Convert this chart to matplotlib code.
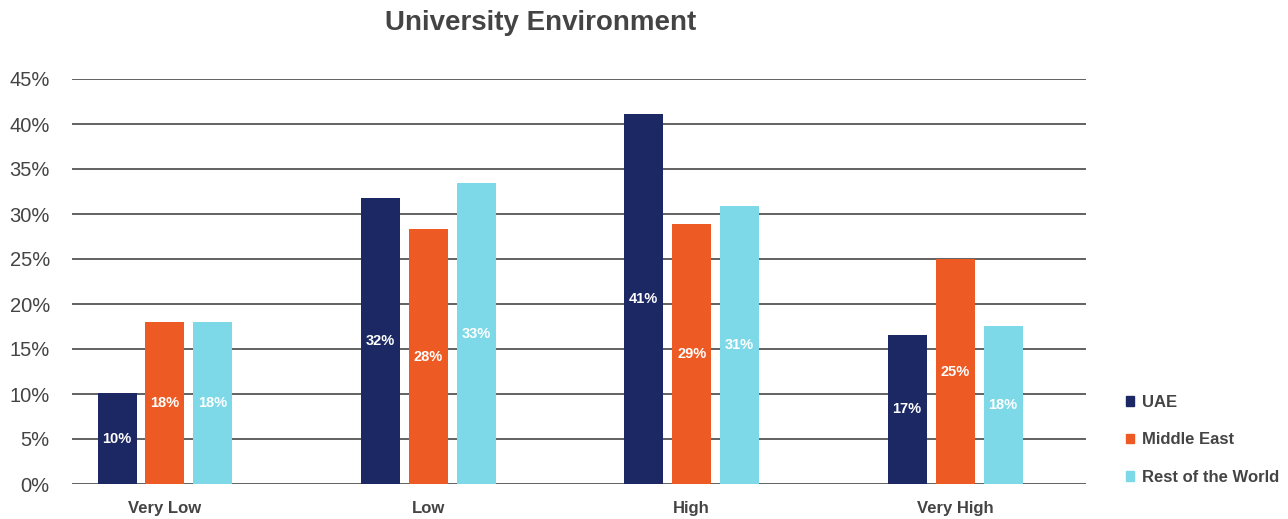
import numpy as np
import matplotlib
matplotlib.use("Agg")
import matplotlib.pyplot as plt
import matplotlib.patches as mpatches

# ─── Data ─────────────────────────────────────────────────────────────────────
categories = ["Very Low", "Low", "High", "Very High"]
series_names = ["UAE", "Middle East", "Rest of the World"]
uae = [10.1, 31.8, 41.1, 16.6]
middle_east = [18.0, 28.3, 28.9, 25.0]
rest_of_world = [18.0, 33.4, 30.9, 17.6]
y_ticks = [0, 5, 10, 15, 20, 25, 30, 35, 40, 45]

# ─── Palette ──────────────────────────────────────────────────────────────────
NAVY = "#1C2864"
ORANGE = "#EE5A24"
CYAN = "#7DD9E8"
TEXT = "#444444"
GRID = "#555555"

plt.rcParams["font.family"] = ["Liberation Sans", "DejaVu Sans"]

fig = plt.figure(figsize=(12.88, 5.19), dpi=100)
ax = fig.add_axes([72 / 1288, 1 - 484 / 519, (1086 - 72) / 1288, (484 - 79) / 519])

x = np.arange(len(categories))
width = 0.148
step = 0.182
colors = [NAVY, ORANGE, CYAN]

for i, (vals, color, name) in enumerate(zip([uae, middle_east, rest_of_world], colors, series_names)):
    pos = x + (i - 1) * step
    bars = ax.bar(pos, vals, width=width, color=color, label=name, zorder=3)
    for b, v in zip(bars, vals):
        ax.text(b.get_x() + b.get_width() / 2, v / 2, f"{v:.0f}%",
                ha="center", va="center", color="white", fontsize=10.5,
                fontweight="bold", zorder=4)

ax.set_xlim(-0.353, 3.497)
ax.set_ylim(0, 45)
ax.set_yticks(y_ticks)
ax.set_yticklabels([f"{t}%" for t in y_ticks], fontsize=14.5, color=TEXT)
ax.set_xticks(x)
ax.set_xticklabels(categories, fontsize=12, fontweight="bold", color=TEXT)
ax.tick_params(axis="both", length=0)
ax.tick_params(axis="y", pad=16)
ax.tick_params(axis="x", pad=12)
ax.grid(True, axis="y", color=GRID, linewidth=1.3, zorder=1)
ax.set_axisbelow(True)
for spine in ax.spines.values():
    spine.set_visible(False)

fig.text(541 / 1288, 1 - 23 / 519, "University Environment", ha="center", va="center",
         fontsize=20, fontweight="bold", color=TEXT)

handles = [mpatches.Patch(color=c, label=n) for c, n in zip(colors, series_names)]
leg = fig.legend(handles=handles, loc="lower left",
                 bbox_to_anchor=(1111 / 1288, 1 - 500 / 519),
                 frameon=False, fontsize=12, handlelength=0.5, handleheight=0.5,
                 handletextpad=0.45, labelspacing=1.35)
for t in leg.get_texts():
    t.set_color(TEXT)
    t.set_fontweight("bold")

fig.savefig("out.png", dpi=100, facecolor="white")
